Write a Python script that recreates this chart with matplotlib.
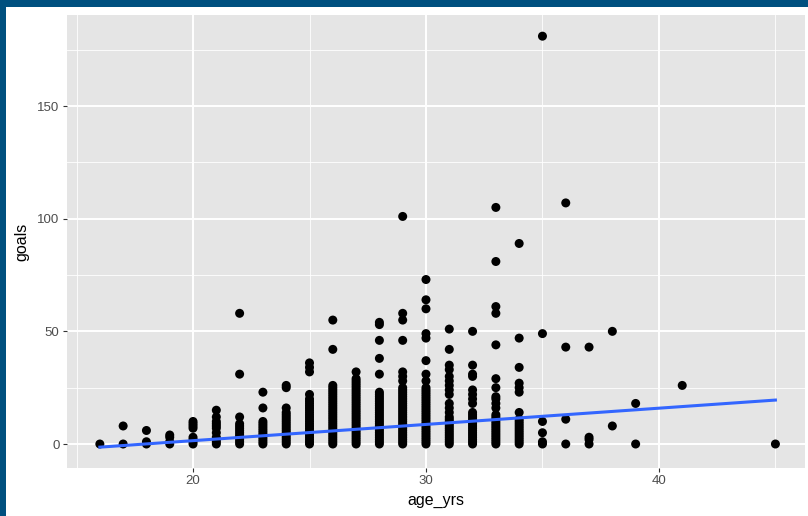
import matplotlib
matplotlib.use("Agg")
import matplotlib.pyplot as plt
from matplotlib.patches import Rectangle
import numpy as np

# goals scored by players of each age
goals_by_age = {
    16: [0],
    17: [0, 8],
    18: [0, 1, 6],
    19: [0, 1, 3, 4],
    20: [0, 1, 2, 3, 7, 8, 9, 10],
    21: [0, 1, 2, 3, 5, 7, 8, 9, 10, 12, 15],
    22: [0, 1, 2, 3, 4, 5, 6, 7, 8, 9, 12, 31, 58],
    23: [0, 1, 2, 3, 4, 5, 6, 7, 8, 9, 10, 16, 23],
    24: [0, 1, 2, 3, 4, 5, 6, 7, 8, 9, 10, 11, 12, 13, 14, 16, 25, 26],
    25: [0, 1, 2, 3, 4, 5, 6, 7, 8, 9, 10, 11, 12, 13, 14, 15, 16, 17, 18,
         19, 20, 22, 32, 34, 36],
    26: [0, 1, 2, 3, 4, 5, 6, 7, 8, 9, 10, 11, 12, 13, 14, 15, 16, 17, 18,
         19, 20, 21, 22, 23, 24, 25, 26, 42, 55],
    27: [0, 1, 2, 3, 4, 5, 6, 7, 8, 9, 10, 11, 12, 13, 14, 15, 16, 17, 18,
         19, 20, 21, 22, 23, 24, 25, 26, 27, 28, 29, 32],
    28: [0, 1, 2, 3, 4, 5, 6, 7, 8, 9, 10, 11, 12, 13, 14, 15, 16, 17, 18,
         19, 20, 21, 22, 23, 31, 38, 46, 53, 54],
    29: [0, 1, 2, 3, 4, 5, 6, 7, 8, 9, 10, 11, 12, 13, 14, 15, 16, 17, 18,
         19, 20, 21, 22, 23, 24, 25, 28, 30, 32, 46, 55, 58, 101],
    30: [0, 1, 2, 3, 4, 5, 6, 7, 8, 9, 10, 11, 12, 13, 14, 15, 16, 17, 18,
         19, 20, 21, 22, 23, 24, 25, 28, 31, 37, 47, 49, 60, 64, 73],
    31: [0, 1, 2, 3, 4, 5, 6, 7, 8, 9, 10, 11, 12, 14, 16, 18, 22, 24, 26,
         28, 30, 33, 35, 42, 51],
    32: [0, 1, 2, 3, 4, 5, 6, 7, 8, 9, 10, 11, 12, 13, 14, 18, 20, 22, 24,
         30, 31, 35, 50],
    33: [0, 1, 2, 3, 4, 5, 6, 7, 8, 9, 10, 11, 12, 13, 16, 18, 20, 21, 25,
         29, 44, 58, 61, 81, 105],
    34: [0, 1, 2, 3, 4, 5, 6, 7, 8, 9, 10, 11, 14, 23, 25, 27, 34, 47, 89],
    35: [0, 1, 5, 10, 49, 181],
    36: [0, 11, 43, 107],
    37: [0, 2, 3, 43],
    38: [8, 50],
    39: [0, 18],
    41: [26],
    45: [0],
}

# linear smoother as drawn in the reference
trend_age = [16, 45]
trend_goals = [-1.4, 19.5]

x_ticks = [20, 30, 40]
y_ticks = [0, 50, 100, 150]

age = []
goals = []
for a, vals in goals_by_age.items():
    for g in vals:
        age.append(a)
        goals.append(g)
age = np.array(age)
goals = np.array(goals)

plt.rcParams['font.family'] = ['Liberation Sans', 'DejaVu Sans']

fig = plt.figure(figsize=(8.08, 5.16), dpi=100)
fig.patch.set_facecolor('white')
border = '#00507f'
fig.patches.append(Rectangle((0, 1 - 7 / 516), 1, 7 / 516, transform=fig.transFigure,
                             facecolor=border, edgecolor='none', zorder=0))
fig.patches.append(Rectangle((0, 0), 6 / 808, 1, transform=fig.transFigure,
                             facecolor=border, edgecolor='none', zorder=0))

ax = fig.add_axes([67 / 808, 48 / 516, 738 / 808, 453 / 516])
ax.set_facecolor('#e5e5e5')
for s in ax.spines.values():
    s.set_visible(False)

ax.set_xlim(14.59, 46.27)
ax.set_ylim(-10.65, 190.4)
ax.set_xticks(x_ticks)
ax.set_yticks(y_ticks)
ax.set_xticks([15, 25, 35, 45], minor=True)
ax.set_yticks([25, 75, 125, 175], minor=True)
ax.grid(which='major', color='white', linewidth=1.4)
ax.grid(which='minor', color='white', linewidth=0.6)
ax.set_axisbelow(True)
ax.tick_params(which='major', length=2.8, width=0.8, color='#333333',
               labelcolor='#4d4d4d', labelsize=9.5, pad=2.5)
ax.tick_params(which='minor', length=0)

ax.scatter(age, goals, s=42, color='black', edgecolors='none', zorder=3)
ax.plot(trend_age, trend_goals, color='#3366ff', linewidth=2.2, zorder=4)

ax.set_xlabel('age_yrs', fontsize=11.5, color='black', labelpad=4)
ax.set_ylabel('goals', fontsize=11.5, color='black', labelpad=6)

fig.savefig('out.png', dpi=100)
